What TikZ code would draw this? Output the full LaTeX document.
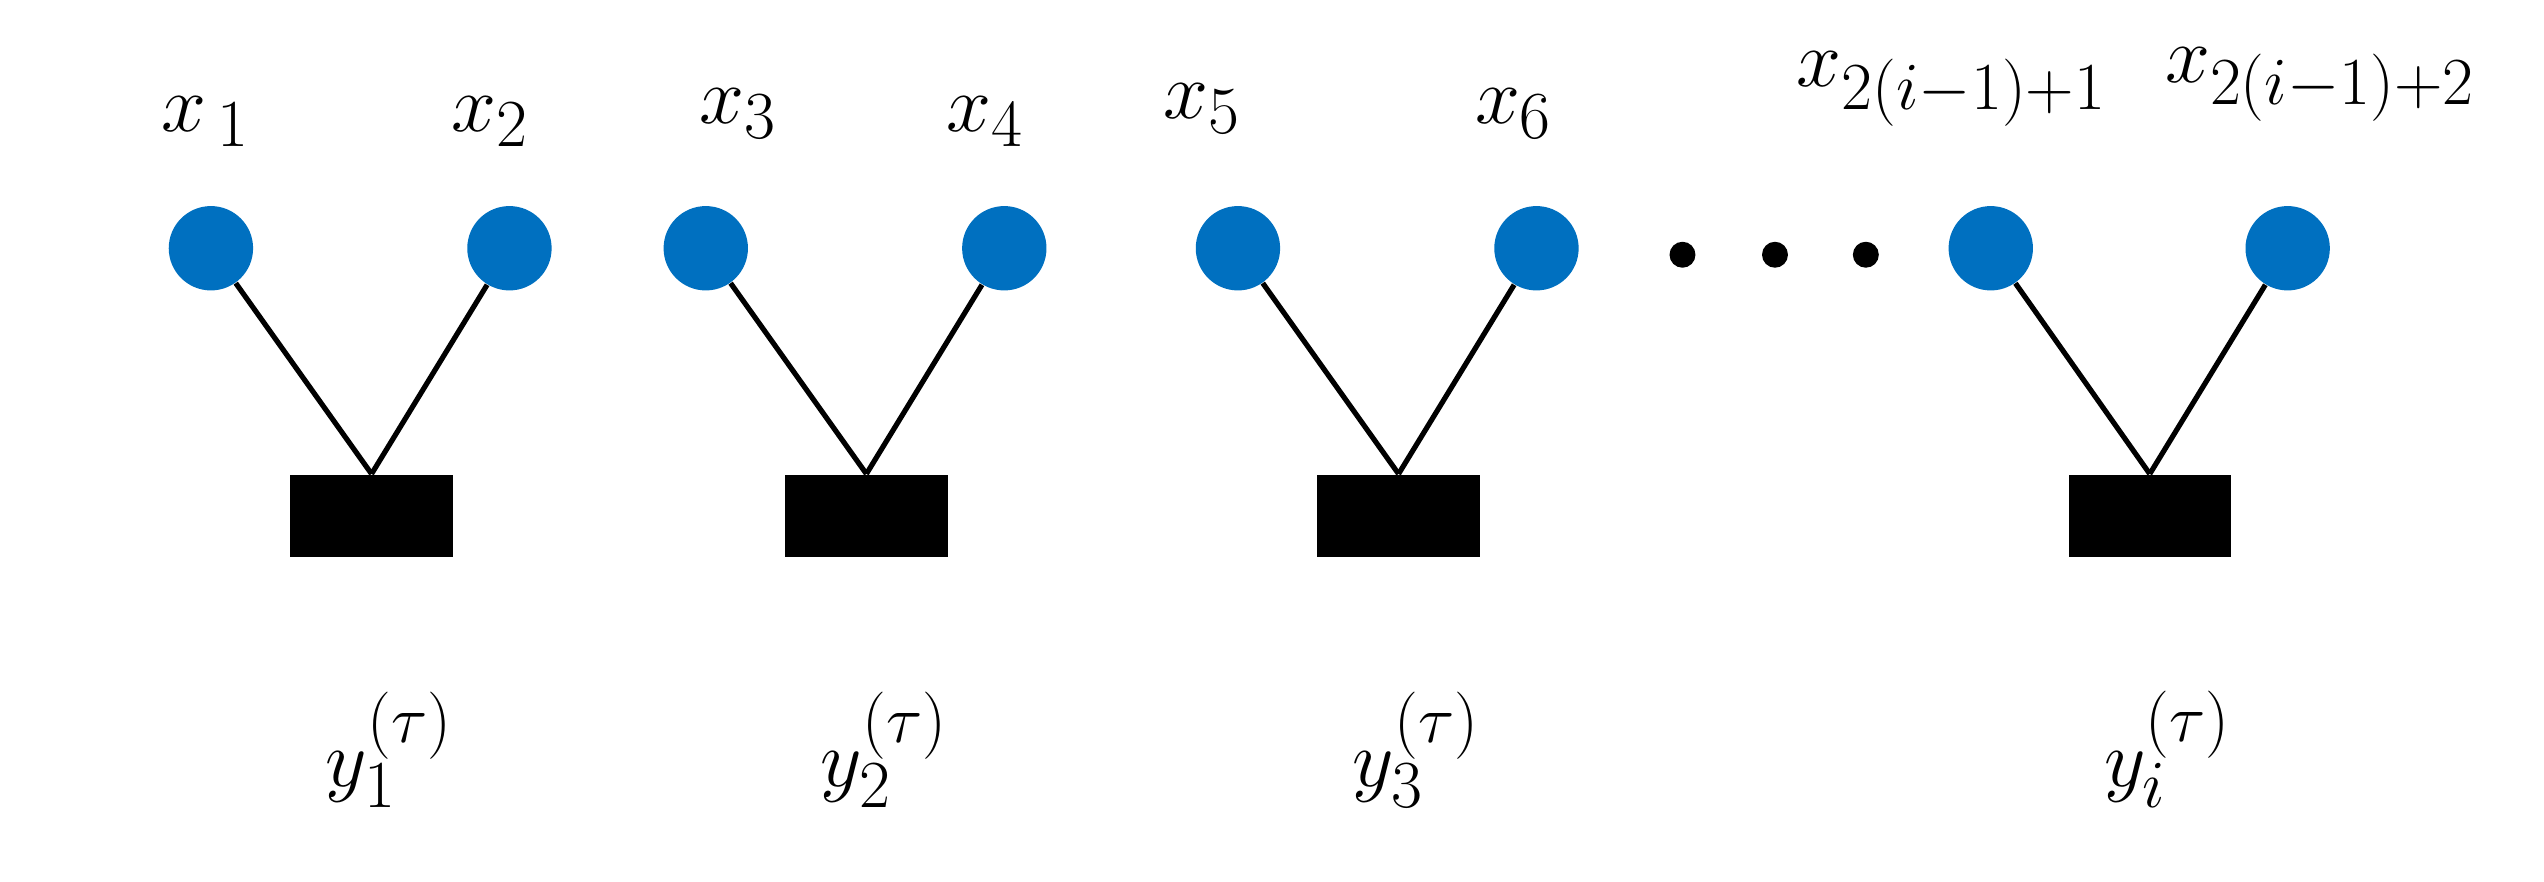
\documentclass[tikz,border=0pt]{standalone}
\begin{document}
\begin{tikzpicture}[x=0.5pt,y=-0.5pt,
  var/.style={circle,fill={rgb,255:red,0;green,112;blue,192},minimum size=26pt,inner sep=0},
  fac/.style={rectangle,fill=black,minimum width=50pt,minimum height=25.5pt,inner sep=0},
  dot/.style={circle,fill=black,minimum size=8pt,inner sep=0},
  lab/.style={font=\fontsize{30}{32}\selectfont,inner sep=0},
  edge/.style={line width=1.6pt}]
\useasboundingbox (0,0) rectangle (1568,543);
\foreach \n/\x in {1/130,2/314,3/435,4/619,5/763,6/947,7/1227,8/1410}
  \node[var] (v\n) at (\x,153) {};
\foreach \n/\x in {1/229,2/534,3/862,4/1325}
  \node[fac] (f\n) at (\x,318) {};
\foreach \n/\x in {1/1037,2/1094,3/1150}
  \node[dot] (d\n) at (\x,157) {};
\draw[edge] (v1) -- (f1.north); \draw[edge] (v2) -- (f1.north);
\draw[edge] (v3) -- (f2.north); \draw[edge] (v4) -- (f2.north);
\draw[edge] (v5) -- (f3.north); \draw[edge] (v6) -- (f3.north);
\draw[edge] (v7) -- (f4.north); \draw[edge] (v8) -- (f4.north);
\node[lab] (l1) at (127,75) {$x_{\,1}$};
\node[lab] (l2) at (302,75) {$x_2$};
\node[lab] (l3) at (455,70) {$x_3$};
\node[lab] (l4) at (607,75) {$x_4$};
\node[lab] (l5) at (741,67) {$x_5$};
\node[lab] (l6) at (933,70) {$x_6$};
\node[lab] (l7) at (1203,55) {$x_{2(i-1)+1}$};
\node[lab] (l8) at (1430,52) {$x_{2(i-1)+2}$};
\foreach \n/\x/\s in {1/240/1,2/545/2,3/873/3,4/1336/i}
  \node[lab] (y\n) at (\x,462) {$y_{\s}^{(\tau)}$};
\end{tikzpicture}
\end{document}
